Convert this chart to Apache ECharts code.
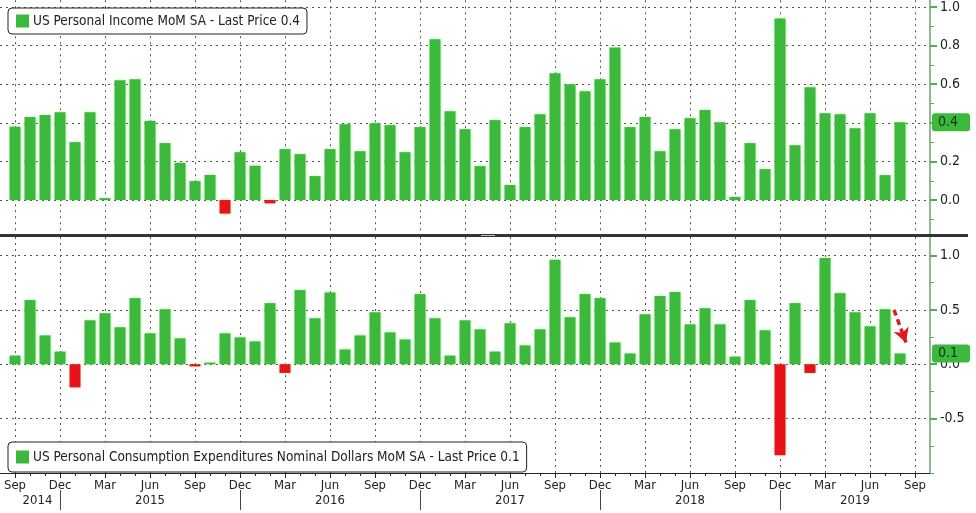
<!DOCTYPE html>
<html>
<head>
<meta charset="utf-8">
<script src="https://cdn.jsdelivr.net/npm/echarts@6/dist/echarts.min.js"></script>
<style>
html,body{margin:0;padding:0;background:#fff;}
#c{width:976px;height:513px;}
</style>
</head>
<body>
<div id="c"></div>
<script>
// ---- data ----
var months = ['Sep 2014','Oct 2014','Nov 2014','Dec 2014','Jan 2015','Feb 2015','Mar 2015','Apr 2015','May 2015','Jun 2015',
'Jul 2015','Aug 2015','Sep 2015','Oct 2015','Nov 2015','Dec 2015','Jan 2016','Feb 2016','Mar 2016','Apr 2016',
'May 2016','Jun 2016','Jul 2016','Aug 2016','Sep 2016','Oct 2016','Nov 2016','Dec 2016','Jan 2017','Feb 2017',
'Mar 2017','Apr 2017','May 2017','Jun 2017','Jul 2017','Aug 2017','Sep 2017','Oct 2017','Nov 2017','Dec 2017',
'Jan 2018','Feb 2018','Mar 2018','Apr 2018','May 2018','Jun 2018','Jul 2018','Aug 2018','Sep 2018','Oct 2018',
'Nov 2018','Dec 2018','Jan 2019','Feb 2019','Mar 2019','Apr 2019','May 2019','Jun 2019','Jul 2019','Aug 2019','Sep 2019'];

var incomeMoM = [0.38,0.43,0.44,0.455,0.30,0.455,0.01,0.62,0.626,0.41,
0.295,0.193,0.098,0.13,-0.07,0.248,0.178,-0.017,0.264,0.238,
0.124,0.264,0.393,0.253,0.398,0.388,0.248,0.378,0.833,0.46,
0.367,0.176,0.414,0.078,0.378,0.445,0.657,0.60,0.564,0.626,
0.79,0.378,0.43,0.253,0.367,0.424,0.466,0.403,0.016,0.295,
0.16,0.941,0.284,0.584,0.45,0.445,0.372,0.45,0.129,0.403];

var spendingMoM = [0.08,0.59,0.265,0.117,-0.213,0.404,0.469,0.34,0.608,0.284,
0.506,0.238,-0.02,0.015,0.284,0.247,0.21,0.562,-0.08,0.682,
0.423,0.66,0.136,0.265,0.478,0.293,0.228,0.645,0.423,0.08,
0.404,0.321,0.117,0.377,0.173,0.321,0.96,0.432,0.645,0.608,
0.2,0.099,0.46,0.627,0.664,0.367,0.515,0.367,0.071,0.59,
0.312,-0.836,0.562,-0.08,0.978,0.654,0.478,0.349,0.506,0.099];

var topTicks = [0, 0.2, 0.4, 0.6, 0.8, 1.0];
var topMinorTicks = [-0.1, 0.1, 0.3, 0.5, 0.7, 0.9];
var bottomTicks = [-0.5, 0, 0.5, 1.0];
var bottomMinorTicks = [-1.0, -0.75, -0.25, 0.25, 0.75];
var quarterIdx = [0,3,6,9,12,15,18,21,24,27,30,33,36,39,42,45,48,51,54,57,60];
var yearLabels = ['2014','2015','2016','2017','2018','2019'];
var yearLabelIdx = [1.5, 9, 21, 33, 45, 56];
var yearSepIdx = [3, 15, 27, 39, 51];

var incomeName = 'US Personal Income MoM SA - Last Price ' + incomeMoM[incomeMoM.length-1].toFixed(1);
var spendName = 'US Personal Consumption Expenditures Nominal Dollars MoM SA - Last Price ' + spendingMoM[spendingMoM.length-1].toFixed(1);

var GREEN = '#3cb83c', RED = '#e8121a', FONT = 'DejaVu Sans Condensed, Liberation Sans';
var allIdx = months.map(function(m, i){ return i; });

function toPairs(arr){ return arr.map(function(v, i){ return [i, v]; }); }
function barColor(p){ return p.value[1] < 0 ? RED : GREEN; }

var xMin = -1, xMax = 61;
var dotted = {show:true, lineStyle:{color:'#555', type:[2,4], width:1}};

function xBase(grid){
  return {type:'value', gridIndex:grid, min:xMin, max:xMax, position:'bottom'};
}
function yLabel(){ return {color:'#222', fontSize:14, fontFamily:FONT, margin:10,
  formatter:function(v){ return v.toFixed(1); }}; }

function legendOf(name, top, pad){
  return {data:[{name:name, itemStyle:{color:GREEN}}], left:8, top:top, icon:'rect',
    itemWidth:13, itemHeight:13, itemGap:4, padding:pad,
    borderColor:'#222', borderWidth:1, borderRadius:4, backgroundColor:'#fff',
    textStyle:{color:'#222', fontSize:13.5, fontFamily:FONT, padding:[0,0,0,-1]},
    selectedMode:false, z:10};
}

var option = {
  animation:false,
  backgroundColor:'#fff',
  textStyle:{fontFamily:FONT},
  grid:[
    {left:0, right:46, top:0, height:235},
    {left:0, right:46, top:237, height:236}
  ],
  legend:[
    legendOf(incomeName, 8, [6,7,6,8]),
    legendOf(spendName, 442, [8,7,8,8])
  ],
  xAxis:[
    Object.assign(xBase(0), {axisLine:{show:false, onZero:false}, axisLabel:{show:false},
      axisTick:{show:false, customValues:quarterIdx}, splitLine:dotted}),
    Object.assign(xBase(1), {axisLine:{show:true, onZero:false, lineStyle:{color:'#222', width:1}},
      axisTick:{show:true, length:5, lineStyle:{color:'#222'}, customValues:quarterIdx},
      axisLabel:{show:true, customValues:quarterIdx, color:'#222', fontSize:13, fontFamily:FONT, margin:6,
        formatter:function(v){ return months[Math.round(v)].split(' ')[0]; }},
      splitLine:dotted}),
    Object.assign(xBase(1), {axisLine:{show:false, onZero:false}, axisLabel:{show:false},
      axisTick:{show:true, length:3, lineStyle:{color:'#222'}, customValues:allIdx}, splitLine:{show:false}}),
    Object.assign(xBase(1), {offset:17, axisLine:{show:false, onZero:false},
      axisTick:{show:true, inside:false, length:20, lineStyle:{color:'#444'}, customValues:yearSepIdx},
      axisLabel:{show:true, customValues:yearLabelIdx, color:'#222', fontSize:13, fontFamily:FONT, margin:4,
        formatter:function(v){ return yearLabels[yearLabelIdx.indexOf(v)]; }},
      splitLine:{show:false}})
  ],
  yAxis:[
    {type:'value', gridIndex:0, position:'right', min:-0.181, max:1.035,
     axisLine:{show:true, onZero:false, lineStyle:{color:'#6f9f6f', width:1.5}},
     axisTick:{show:true, length:7, lineStyle:{color:'#4fae4f', width:2}, customValues:topTicks},
     axisLabel:Object.assign(yLabel(), {customValues:topTicks}),
     splitLine:dotted,
     axisPointer:{show:true, type:'none', status:'show', triggerTooltip:false,
       value:incomeMoM[incomeMoM.length-1],
       label:{show:true, backgroundColor:GREEN, color:'#143214', fontSize:14, fontFamily:FONT,
         padding:[2,12,2,6], margin:2, formatter:function(p){ return Number(p.value).toFixed(1); }}}},
    {type:'value', gridIndex:0, position:'right', min:-0.181, max:1.035,
     axisLine:{show:false, onZero:false}, axisLabel:{show:false}, splitLine:{show:false},
     axisTick:{show:true, length:4, lineStyle:{color:'#6f9f6f', width:1}, customValues:topMinorTicks}},
    {type:'value', gridIndex:1, position:'right', min:-1.0, max:1.17,
     axisLine:{show:true, onZero:false, lineStyle:{color:'#6f9f6f', width:1.5}},
     axisTick:{show:true, length:7, lineStyle:{color:'#4fae4f', width:2}, customValues:bottomTicks},
     axisLabel:Object.assign(yLabel(), {customValues:bottomTicks}),
     splitLine:dotted,
     axisPointer:{show:true, type:'none', status:'show', triggerTooltip:false,
       value:spendingMoM[spendingMoM.length-1],
       label:{show:true, backgroundColor:GREEN, color:'#143214', fontSize:14, fontFamily:FONT,
         padding:[2,12,2,6], margin:2, formatter:function(p){ return Number(p.value).toFixed(1); }}}},
    {type:'value', gridIndex:1, position:'right', min:-1.0, max:1.17,
     axisLine:{show:false, onZero:false}, axisLabel:{show:false}, splitLine:{show:false},
     axisTick:{show:true, length:4, lineStyle:{color:'#6f9f6f', width:1}, customValues:bottomMinorTicks}}
  ],
  axisPointer:{triggerOn:'none'},
  series:[
    {name:incomeName, type:'bar', xAxisIndex:0, yAxisIndex:0, data:toPairs(incomeMoM), barWidth:11,
     itemStyle:{color:barColor, shadowColor:'rgba(110,230,90,0.7)', shadowBlur:3}, z:3},
    {name:spendName, type:'bar', xAxisIndex:1, yAxisIndex:2, data:toPairs(spendingMoM), barWidth:11,
     itemStyle:{color:barColor, shadowColor:'rgba(110,230,90,0.7)', shadowBlur:3}, z:3,
     markLine:{silent:true, symbol:['none','arrow'], symbolSize:[12,14], label:{show:false},
       lineStyle:{color:'#dd1a22', type:[6,4], width:3.5},
       data:[[{coord:[58.6, 0.5]}, {coord:[59.4, 0.2]}]]}}
  ],
  graphic:[
    {type:'rect', shape:{x:0, y:234, width:968, height:3}, style:{fill:'#333'}, z:20},
    {type:'rect', shape:{x:481, y:235, width:14, height:1}, style:{fill:'#bbb'}, z:21}
  ]
};

var chart = echarts.init(document.getElementById('c'), null, {renderer:'canvas'});
chart.setOption(option);
</script>
</body>
</html>
